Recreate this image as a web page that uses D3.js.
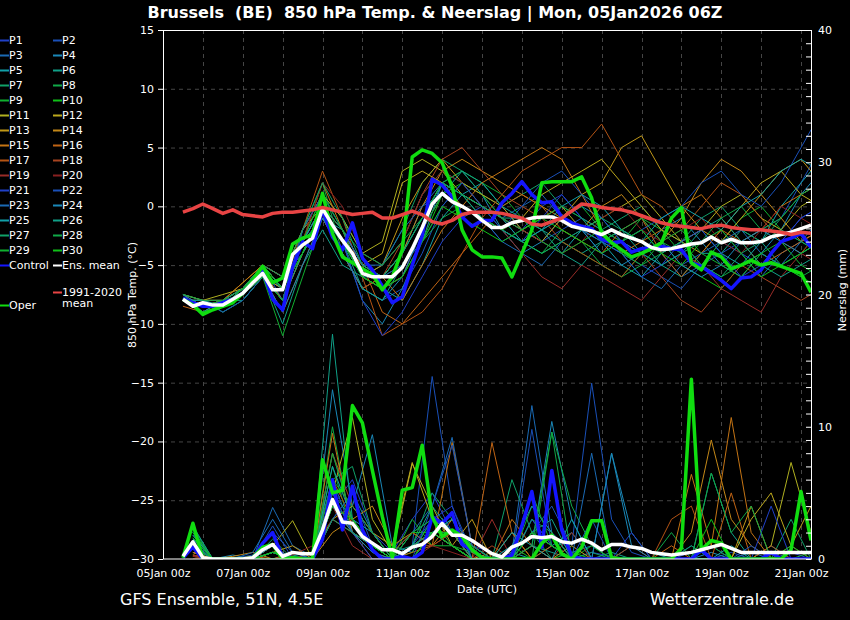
<!DOCTYPE html>
<html>
<head>
<meta charset="utf-8">
<script src="https://cdn.jsdelivr.net/npm/d3@7"></script>
<style>
body { margin: 0; background: #000; }
svg { display: block; font-family: "DejaVu Sans", sans-serif; }
</style>
</head>
<body>
<div id="chart-area"></div>
<script>
// ---- data ----
const titleText = "Brussels  (BE)  850 hPa Temp. & Neerslag | Mon, 05Jan2026 06Z";
const memberNames = d3.range(1, 31).map(d => "P" + d);
const memberColors = [
    "#2040c8","#1a50b8","#1a6ab4","#1a88b8","#12a0a8","#10a088","#10a068","#10a848","#10b030","#10c018",
    "#b0b020","#bca81c","#c09818","#c48818","#c47414","#c06414","#b45414","#a84420","#982c28","#882020",
    "#2040c8","#1a50b8","#1a6ab4","#1a88b8","#12a0a8","#10a088","#10a068","#10a848","#10b030","#10c018"
];
const tempTicks = [-30, -25, -20, -15, -10, -5, 0, 5, 10, 15];
const precTicks = [0, 10, 20, 30, 40];

// 6-hourly series, 05Jan 12z .. 21Jan 06z
const tempClim = [-0.5,-0.2,0.2,-0.2,-0.6,-0.3,-0.7,-0.8, -0.9,-0.6,-0.5,-0.5,-0.4,-0.3,-0.1,-0.3,
    -0.5,-0.7,-0.6,-0.5,-1.0,-1.0,-0.7,-0.4, -0.7,-1.3,-1.5,-1.2,-0.7,-0.5,-0.5,-0.5,
    -0.6,-0.8,-1.0,-1.5,-1.6,-1.3,-1.0,-0.4, 0.2,0.1,-0.1,-0.2,-0.3,-0.5,-0.8,-1.1,
    -1.4,-1.6,-1.7,-1.8,-1.9,-1.7,-1.6,-1.8, -1.9,-2.0,-2.0,-2.1,-2.2,-2.4,-2.2,-2.3];
const tempMean = [-7.9,-8.5,-8.2,-8.4,-8.4,-7.9,-7.4,-6.5, -5.7,-7.1,-7.1,-4.1,-3.3,-2.7,-0.2,-1.6,
    -2.9,-4.0,-5.7,-6.0,-6.0,-6.0,-5.2,-3.6, -1.8,0.2,1.1,0.4,0.0,-0.5,-1.2,-1.8,
    -1.8,-1.4,-1.2,-1.0,-0.9,-0.9,-1.2,-1.7, -1.9,-2.1,-2.4,-2.0,-2.4,-2.7,-3.0,-3.5,
    -3.7,-3.6,-3.4,-3.2,-3.1,-2.6,-3.1,-2.8, -3.1,-3.1,-3.0,-2.6,-2.4,-2.2,-1.9,-1.6];
const tempControl = [-7.8,-8.2,-8.5,-8.5,-8.2,-7.9,-7.4,-6.3, -5.4,-7.9,-8.8,-5.2,-3.0,-3.6,-0.3,-2.6,
    -3.7,-1.4,-4.4,-5.4,-6.8,-8.2,-7.7,-5.0, -2.5,2.3,1.8,0.8,-0.9,-1.7,-1.2,-1.2,
    0.3,1.1,2.1,1.0,0.3,0.4,-0.9,-1.4, -1.7,-1.9,-2.8,-3.1,-3.0,-3.9,-3.6,-3.5,
    -3.4,-3.6,-3.7,-4.8,-5.1,-5.7,-6.3,-7.0, -6.1,-6.0,-5.4,-4.0,-3.0,-2.7,-2.3,-3.5];
const tempOper = [-7.9,-8.4,-9.2,-8.8,-8.5,-8.2,-7.4,-6.3, -5.1,-6.5,-6.1,-3.2,-2.7,-2.4,1.1,-2.3,
    -4.3,-4.8,-5.3,-5.8,-7.1,-6.0,-3.7,4.2, 4.8,4.5,3.7,1.7,-2.0,-3.7,-4.3,-4.3,
    -4.4,-6.0,-4.0,-2.0,2.0,2.1,2.1,2.1, 2.5,0.7,-2.3,-3.1,-3.7,-4.3,-4.0,-3.6,
    -3.1,-1.0,-0.1,-4.8,-5.4,-3.9,-4.3,-5.3, -5.0,-4.6,-5.0,-4.8,-5.1,-5.4,-5.7,-7.3];
const precMean = [0.2,1.3,0.1,0,0,0,0,0.1, 0.7,1.1,0.2,0.5,0.4,0.4,2.2,4.5,
    2.8,2.7,1.7,1.2,0.7,0.7,0.4,0.9, 1.1,1.7,2.7,1.8,1.8,1.4,0.9,0.4,
    0.15,0.9,1.2,1.7,1.6,1.7,1.3,1.2, 1.5,1.2,0.7,1.1,1.1,0.9,0.8,0.5,
    0.4,0.3,0.4,0.5,0.7,0.9,1.1,0.8, 0.5,0.5,0.5,0.5,0.5,0.5,0.5,0.5];
const precOper = [0.1,2.7,0,0,0,0,0,0.1, 0.9,1.1,0,0.1,0,0,7.5,5.0,
    5.2,11.6,10.3,6.7,3.2,0.1,5.2,5.4, 8.6,3.2,1.7,2.2,1.7,0.7,0.1,0,
    0,0,0,0,1.2,1.8,0.4,0, 0.9,2.9,2.9,0.1,0,0,0,0,
    0,0,0.8,13.6,0.7,1.4,1.2,0, 0,0,0,0,0,0.7,5.1,1.4];
const precControl = [0.1,0.9,0,0,0,0,0,0, 1.2,2.0,0.1,0,0,0,1.5,6.0,
    2.2,5.5,2.2,0.7,0,0,0.2,0, 0.5,3.2,2.7,3.5,1.1,0.7,0.1,0,
    0,0.3,2.5,5.1,0.9,6.7,2.2,0.2, 0,0,0,0,0,0,0,0,
    0,0,0,0,0.7,0,0,0, 0,0,0,0.5,0,0,0,0];

// members, temperature: 12-hourly from 05Jan 12z
const tempMembers = [
    [-8,-8.5,-8,-7,-5,-8,-3,0,-3,-6,-7,-6,-2,1,0,-1,-3,-2,0,1,-1,-2,-3,-4,-5,-4,-3,-2,-4,-5,-3,-1,0],
    [-7.5,-8,-8.5,-7.5,-6,-7,-4,-1,-4,-7,-8,-7,-4,0,2,1,-1,-2,-3,-2,-1,-3,-4,-5,-6,-7,-5,-4,-3,-2,-1,2,5],
    [-8,-8,-9,-8,-6,-9,-2,1,-2,-5,-6,-4,0,2,1,0,-1,0,1,-1,-2,-4,-3,-2,-4,-6,-5,-3,-4,-6,-4,-3,-2],
    [-8,-8.5,-8,-7,-5,-6,-4,0,-3,-8,-10,-7,-3,2,3,1,-2,-4,-3,-1,0,-1,-3,-4,-2,-1,-3,-5,-6,-4,-2,1,3],
    [-7.5,-9,-8.5,-7,-6,-7,-3,-1,-2,-6,-7,-8,-5,-1,1,2,0,-2,-3,-4,-2,-3,-5,-6,-4,-3,-2,-4,-5,-3,0,2,4],
    [-8,-8,-8,-8,-6,-10,-5,-2,-5,-6,-5,-3,1,3,2,0,-1,-1,-2,-3,-4,-3,-2,-3,-5,-6,-4,-4,-2,-3,-5,-4,-3],
    [-8,-9,-8,-7,-5,-7,-3,1,-1,-4,-5,-2,2,4,3,1,0,1,2,0,-1,-2,-1,0,-2,-3,-1,0,-2,-3,-1,1,2],
    [-8,-8.5,-8.5,-7.5,-6,-8,-2,2,-4,-7,-6,-5,-3,-1,0,-1,-2,-3,-4,-2,-3,-5,-6,-5,-4,-3,-5,-6,-5,-4,-5,-6,-5],
    [-7.5,-8,-9,-8,-6,-11,-6,-1,-3,-5,-6,-4,-1,2,3,2,1,-1,-2,-1,0,-2,-3,-1,-2,-4,-5,-3,-1,0,-2,-3,-4],
    [-8,-9,-8,-7,-5,-7,-4,0,-3,-6,-7,-6,-3,1,2,1,-1,-3,-4,-3,-4,-5,-6,-4,-3,-5,-6,-7,-5,-4,-5,-6,-7],
    [-8,-8,-7.5,-7,-5,-6,-2,1,-1,-4,-3,3,4,3,1,0,-1,-2,-1,0,-2,-1,0,1,-1,-3,-2,0,1,-1,-2,0,1],
    [-8,-8.5,-8,-7,-6,-7,-3,0,-2,-5,-4,2,3,2,0,-1,-2,-1,1,2,3,4,2,0,-2,-3,-4,-2,0,2,3,1,0],
    [-7.5,-8,-8,-6.5,-5,-6,-2,0,-2,-6,-5,-1,2,4,2,1,0,-2,-3,-1,1,2,5,6,3,0,-2,-3,-1,1,3,4,2],
    [-8,-9,-8.5,-7,-5.5,-8,-4,-1,-4,-7,-6,-4,0,3,4,3,2,1,0,-1,-2,0,1,-1,-3,-1,2,4,3,1,-1,-3,-2],
    [-8,-8.5,-8,-6.5,-5,-7,-3,2,-2,-5,-6,-8,-5,-2,0,2,3,4,5,4,1,-2,-4,-3,-2,0,1,-1,-3,-2,0,1,2],
    [-8.5,-9,-8.5,-7.5,-6,-8,-4,-1,-3,-5,-9,-10,-8,-6,-4,-2,0,1,0,-2,-3,-4,-2,-1,-4,-6,-4,-2,-3,-5,-4,-3,-2],
    [-8,-8,-8,-7,-5,-7,-2,3,-1,-6,-11,-10,-9,-7,-4,-1,1,3,4,5,5,7,4,1,0,-2,0,2,1,-1,-3,-4,-2],
    [-8,-8.5,-8,-7,-6,-9,-5,-1,-4,-7,-6,-3,1,4,5,3,1,0,-1,-3,-4,-5,-6,-4,-6,-8,-9,-7,-5,-6,-7,-8,-7],
    [-7.5,-8.5,-8,-7,-5,-7,-3,0,-2,-6,-7,-6,-2,1,0,-1,-2,-4,-6,-7,-5,-6,-7,-8,-6,-4,-5,-7,-8,-9,-6,-4,-5],
    [-8,-9,-8,-7,-5,-6,-3,2,0,-4,-5,-3,1,3,2,0,-1,-2,-3,-4,-3,-1,0,-2,-3,-2,-1,-3,-4,-2,0,-1,-2],
    [-8,-8.5,-8.5,-7,-5.5,-7,-4,-1,-3,-8,-11,-9,-6,-3,-1,0,-2,-3,-1,1,-1,-3,-4,-6,-5,-3,-2,-4,-6,-5,-3,-1,0],
    [-8,-8,-9,-8,-6,-8,-2,1,-2,-5,-6,-5,-3,0,2,0,-2,0,2,3,1,-1,-3,-2,-1,0,2,3,1,0,2,5,8],
    [-8,-8.5,-8,-7,-5,-7,-3,0,-2,-5,-5,-2,0,1,0,-1,-3,-4,-5,-3,-2,-3,-4,-6,-7,-5,-4,-3,-2,-4,-5,-3,-1],
    [-7.5,-8.5,-8.5,-7.5,-6,-9,-5,-1,-4,-7,-8,-6,-2,2,1,0,-1,-3,-2,-1,-2,-4,-5,-4,-3,-5,-6,-5,-3,-2,-3,-4,-3],
    [-8,-9,-8,-7,-5,-7,-3,0,-3,-6,-6,-4,-1,2,1,-1,-2,-3,-2,0,1,0,-2,-3,-1,0,-1,-2,0,1,3,4,3],
    [-8,-8,-8.5,-7,-6,-8,-4,-1,-3,-7,-8,-5,-2,1,3,2,0,-1,-2,-4,-5,-3,-2,-4,-5,-4,-2,-1,-3,-5,-6,-5,-4],
    [-8,-9,-8.5,-7,-5,-6,-2,2,-1,-5,-6,-4,-1,2,1,-1,-2,-3,-4,-3,-2,-1,-2,-3,-4,-3,-5,-6,-4,-3,-2,-3,-4],
    [-7.5,-8,-8,-7,-5.5,-7,-4,0,-2,-4,-5,-3,-1,2,1,0,-1,-2,-1,0,-1,-3,-2,-1,-3,-4,-3,-1,0,-2,-1,1,2],
    [-8,-8.5,-8,-7.5,-6,-8,-3,1,-2,-6,-7,-5,-2,1,0,-1,-2,-1,-3,-4,-3,-2,-4,-5,-3,-2,-4,-5,-6,-4,-3,-5,-6],
    [-8,-9,-8.5,-7,-5,-7,-4,0,-3,-6,-7,-6,-3,0,-1,-2,-3,-2,-1,-2,-3,-4,-3,-2,-4,-5,-3,-2,-4,-6,-5,-4,-3]
];

// members, precipitation: 12-hourly from 05Jan 18z
const precMembers = [
    [1.5,0,0,0,0.5,0.2,0,4,6,2,0.5,3,5,2,1,0.5,0,3,1,0,0.5,0.2,0,0,0,0.5,1,0,0,0,0.5,0],
    [1,0,0,0.3,2,0.5,0,8,3,1,0,1,13.8,4,0.5,0,0,2,4,1,13.3,3,0.5,0,0,0,0,0.5,0,0,0,0],
    [2,0,0,0,3.9,1,0.2,5,2,1,0.5,2,4,9.2,1,0,0.5,11.6,2,0.5,1,0,0,0,0,1,0,0,0.5,0,0,0],
    [0.5,0,0.3,0,1,0,0,12.8,4,9.4,1,0.5,3,2,0.5,0,0,1,10.4,3,0,8,2,0,0,0,0.5,0,0,1,0,0],
    [2.5,0,0,0,0.5,0,0,3,5,2,0,0,2,3,1,0,0.5,0,1,2,0,0,1,0.5,0,0,0,0,0,0,0,0],
    [1.2,0,0,0,0,0.3,0,17,3,1,0.5,1,2,1,0,0,0,1,0.5,0,0,0.5,0,0,0,0,6.5,2,0,0,0,0],
    [0.8,0,0,0,1.5,0,0.5,6,7,2,0,1,5,3,1,0,6,2,0,0,0.5,0,0,0,0,1,0,0,0,0,3,0],
    [1.8,0,0,0,0.5,0,0,10,2,1,0,0.5,3,2,0,0,0,0,9.6,4,1,0,0,0,2,0,0,0,0,0,0,0.5],
    [2.2,0,0,0,0,0,0,7,2,0.5,0,3,1,1,0.5,0,0,4,2,0,1,0,0,0,0,0,1,0,0,0,0,0],
    [1,0,0,0,0.5,0,0,4,3,1,0,2,2,1,0,0,1,0,0,0.5,0,0,0,0,0,0,0,0,0,0,0,0],
    [0.5,0,0,0,1,2.9,0,5,10.7,3,0.5,7.2,4,1,0,0,0,2,1,0,0,0,0,0,0,0,0,0,0,1,7.3,2],
    [0.3,0,0,0,0,0.5,0.5,3,4,2,1,7.3,3,2,0,0.5,0,0,0,0,0,0,0,0,0,0,0,0,3,5,1,4],
    [0.5,0,0,0,0.5,1,0,4,2,1,0,1,2,1,3,0,2,0,0,1,0,0,0,0,0,0,0,0,4,0,1,0],
    [0.2,0,0.2,0.5,0,0,0,2,3,4,1,2,1,3,0.5,0,0,0,0,0,0,0,0,0,0,2,9,3,1,0,0,0],
    [0.5,0,0,0,1,0,0,9.5,2,1,0,0.5,1,8.8,1,0,3,1,0,0,0,0,0,0,0,6.4,1,10.7,2,0,0,0],
    [0.3,0,0,0.2,0,0,0,3,2,0,0,1,2,1,0,8.8,2,0,1,0,0,0,0,0,1,0,0,5,0,0,0,0],
    [0.2,0,0,0,0.5,0,0,6,3,1,0.5,2,1,2,0,0,0,1,0,0,0,0,0,0,3,4,0,0,0,1,0,0],
    [0,0,0,0,0,0,0,8,4,2,0,1,1,2,0,1,0,0,2,0,0,0,1,0,0,0,0,0,0,0,0,0],
    [0.3,0,0,0,0,0,0.5,4,1,0,0,0,2,1,0,3,0,0,0,2,0,0,0,0,0,0,0,0,0,0,0,0],
    [0.2,0,0,0,0,0.3,1,3,2,0.5,0,0,1,0.5,0,0,0,0,0,0,0,0,0,0,0,0,0,0,0,0,0,0],
    [1,0,0,0,0.5,0,0,5,2,0,0,1,3,4,0,0,0,3,1,0,0,0,2,0,0,0,0,0,0,4,0,0],
    [1.5,0,0,0,2.5,0,0,3,5,1,0,0,4,8.6,1,0,0,9.8,1,0,3,0,0,0,0,0,0,0,1,0,0,0],
    [1,0,0,0.5,3,0.5,0,6,2,1,0,2,3,2,1,0,0,2,1,0,8,0,0,0,0,0,0,0,0,0,0,0],
    [1.8,0,0,0,1,0,0,4,2,0.5,0,0,2,1,0,0,1,4,2,0,0,8,1,0,0,0,0,0,0,0,0,0],
    [2,0,0,0,0.5,0,0,7,3,2,0,1,2,3,0,0,2,1,0,3,0,0,0,0,0,0,0,1,0,0,0,0],
    [1.5,0,0,0,0,0,0,5,3,1,0,1,4,2,0,0,0,2,3,0,0,0,0,0,0,0,0,0,0,0,0,0],
    [2.4,0,0,0,0.5,0,0,3,2,1,0,1,2,1,0,0,0,3,2,0,0,0,0,0,0,0,0,0,0,0,0,0],
    [1,0,0,0,0.5,0,0,6,4,2,0,0,2,2,1,0,0,1,9.6,0,0,0,0,0,0,0,6.5,2,4,0,0,0],
    [2,0,0,0,0,0,0,8,3,1,0,2,3,1,0,0,0,5,1,0,0,0,0,0,0,0,0,0,0,0,1,0],
    [1.6,0,0,0,0.5,0,0,4,3,1,0,0,2,1,0,0,0,2,1,0,0,0,0,0,0,0,3,0,0,0,0,0]
];

// ---- layout ----
var margin = { left:163, right:39, top:30, bottom:61 };
var width = 850 - margin.left - margin.right,
    height = 620 - margin.top - margin.bottom;

var svg = d3.select("#chart-area")
    .append("svg")
        .attr("width", 850)
        .attr("height", 620)
        .style("background", "#000");

var g = svg.append("g")
    .attr("transform", "translate(" + margin.left + ", " + margin.top + ")");

// scales
var x = d3.scaleUtc()
    .domain([new Date(Date.UTC(2026,0,5,0)), new Date(Date.UTC(2026,0,21,6))])
    .range([0, width]);
var y = d3.scaleLinear().domain([-30, 15]).range([height, 0]);
var yP = d3.scaleLinear().domain([0, 40]).range([height, 0]);

// time of each point
const t6 = i => new Date(Date.UTC(2026,0,5,12 + 6*i));
const tT = k => new Date(Date.UTC(2026,0,5,12 + 12*k));
const tP = k => new Date(Date.UTC(2026,0,5,18 + 12*k));

// grid
var grid = g.append("g").attr("stroke", "#454545").attr("stroke-dasharray", "4,4").attr("stroke-width", 1);
grid.selectAll(".hg")
    .data(tempTicks.filter(d => d > -30 && d < 15))
    .enter().append("line")
        .attr("x1", 0).attr("x2", width)
        .attr("y1", d => y(d) + 0.5).attr("y2", d => y(d) + 0.5);
grid.selectAll(".vg")
    .data(d3.utcDay.range(new Date(Date.UTC(2026,0,6)), new Date(Date.UTC(2026,0,21,1))))
    .enter().append("line")
        .attr("y1", 0).attr("y2", height)
        .attr("x1", d => Math.round(x(d)) + 0.5).attr("x2", d => Math.round(x(d)) + 0.5);

// clip
svg.append("defs").append("clipPath").attr("id", "plot-clip")
    .append("rect").attr("width", width).attr("height", height);
var plot = g.append("g").attr("clip-path", "url(#plot-clip)");

const makeLine = (tf, sc) => d3.line().x((d, i) => x(tf(i))).y(d => sc(d));

// members
tempMembers.forEach(function(s, m) {
    plot.append("path").datum(s)
        .attr("fill", "none").attr("stroke", memberColors[m]).attr("stroke-width", 1)
        .attr("d", makeLine(tT, y));
});
precMembers.forEach(function(s, m) {
    plot.append("path").datum(s)
        .attr("fill", "none").attr("stroke", memberColors[m]).attr("stroke-width", 1)
        .attr("d", makeLine(tP, yP));
});

// main lines
var mains = [
    { data: precControl, sc: yP, color: "#1515ff" },
    { data: tempControl, sc: y, color: "#1515ff" },
    { data: precOper, sc: yP, color: "#10dd10" },
    { data: tempOper, sc: y, color: "#10dd10" },
    { data: precMean, sc: yP, color: "#ffffff" },
    { data: tempMean, sc: y, color: "#ffffff" },
    { data: tempClim, sc: y, color: "#e84444" }
];
mains.forEach(function(s) {
    plot.append("path").datum(s.data)
        .attr("fill", "none").attr("stroke", s.color).attr("stroke-width", 3.5)
        .attr("stroke-linejoin", "round")
        .attr("d", makeLine(t6, s.sc));
});

// frame
g.append("rect").attr("x", 0.5).attr("y", 0.5).attr("width", width).attr("height", height - 0.5)
    .attr("fill", "none").attr("stroke", "#fff").attr("stroke-width", 1);

// axes
var styleAxis = function(sel) {
    sel.select(".domain").remove();
    sel.selectAll("line").attr("stroke", "#fff");
    sel.selectAll("text").attr("fill", "#fff").attr("font-size", "11px")
        .attr("font-family", "DejaVu Sans, sans-serif");
};

g.append("g")
    .call(d3.axisLeft(y).tickValues(tempTicks).tickSize(5).tickPadding(4))
    .call(styleAxis);

g.append("g")
    .attr("transform", "translate(" + width + ",0)")
    .call(d3.axisRight(yP).tickValues(d3.range(0, 41, 1)).tickSize(-5).tickPadding(7)
        .tickFormat(d => precTicks.includes(d) ? d : ""))
    .call(styleAxis);

g.append("g")
    .attr("transform", "translate(0," + height + ")")
    .call(d3.axisBottom(x)
        .tickValues(d3.utcDay.range(new Date(Date.UTC(2026,0,5)), new Date(Date.UTC(2026,0,21,1)), 2))
        .tickFormat(d3.utcFormat("%d%b %Hz")).tickSize(0).tickPadding(10))
    .call(styleAxis);

// labels
svg.append("text").attr("x", 435).attr("y", 18).attr("text-anchor", "middle")
    .attr("fill", "#fff").attr("font-size", "16px").attr("font-weight", "bold")
    .style("white-space", "pre").text(titleText);

svg.append("text").attr("x", margin.left + width / 2).attr("y", 593).attr("text-anchor", "middle")
    .attr("fill", "#fff").attr("font-size", "11px").text("Date (UTC)");

svg.append("text").attr("transform", "translate(136,295) rotate(-90)").attr("text-anchor", "middle")
    .attr("fill", "#fff").attr("font-size", "11px").text("850 hPa Temp. (°C)");

svg.append("text").attr("transform", "translate(846,290) rotate(-90)").attr("text-anchor", "middle")
    .attr("fill", "#fff").attr("font-size", "11px").text("Neerslag (mm)");

svg.append("text").attr("x", 120).attr("y", 605)
    .attr("fill", "#fff").attr("font-size", "16px").text("GFS Ensemble, 51N, 4.5E");
svg.append("text").attr("x", 794).attr("y", 605).attr("text-anchor", "end")
    .attr("fill", "#fff").attr("font-size", "16px").text("Wetterzentrale.de");

// legend
var legendItems = memberNames.map((n, i) => ({
    name: n, color: memberColors[i], col: i % 2, yy: 40 + 15 * Math.floor(i / 2)
}));
legendItems.push({ name: "Control", color: "#1515ff", col: 0, yy: 265 });
legendItems.push({ name: "Ens. mean", color: "#ffffff", col: 1, yy: 265 });
legendItems.push({ name: "1991-2020", color: "#e84444", col: 1, yy: 292 });
legendItems.push({ name: "Oper", color: "#10dd10", col: 0, yy: 305 });

var leg = svg.append("g");
var li = leg.selectAll(".li").data(legendItems).enter().append("g")
    .attr("transform", d => "translate(" + (d.col ? 53 : 0) + "," + d.yy + ")");
li.append("line").attr("x1", 0).attr("x2", 9).attr("y1", 0.5).attr("y2", 0.5)
    .attr("stroke", d => d.color).attr("stroke-width", 2);
li.append("text").attr("x", 9).attr("dy", "0.35em")
    .attr("fill", "#fff").attr("font-size", "11px").text(d => d.name);
leg.append("text").attr("x", 62).attr("y", 303.5).attr("dy", "0.35em")
    .attr("fill", "#fff").attr("font-size", "11px").text("mean");
</script>
</body>
</html>
